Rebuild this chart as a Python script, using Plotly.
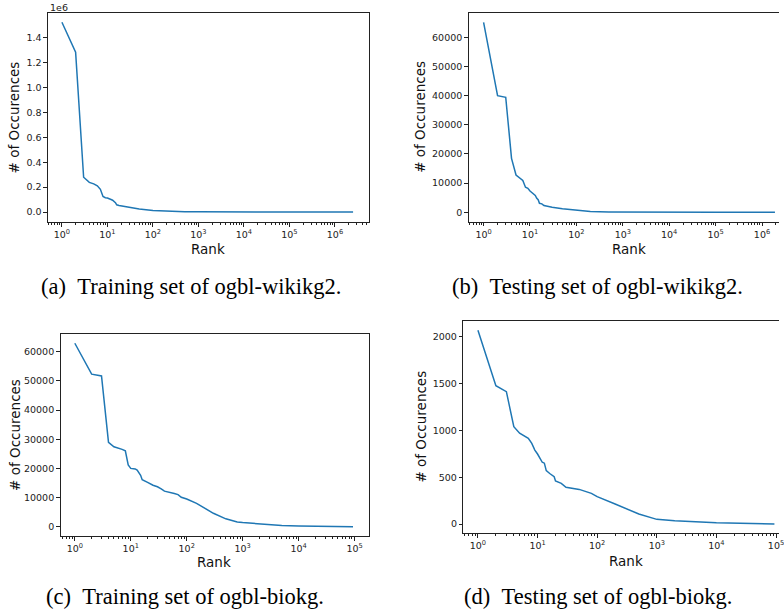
import plotly.graph_objects as go

W, H = 784, 613

# ---------------- data ----------------
a_rank = [1, 2, 3, 4, 5, 6, 7, 8, 9, 10, 12, 13, 15, 16, 18, 25, 50, 100, 200, 500, 1000, 1e4, 1e5, 1e6, 2.5e6]
a_count = [1524000, 1283000, 279000, 238000, 226000, 210000, 182000, 125000, 115000, 112000, 100000, 95000, 75000,
           58000, 52000, 42000, 25000, 13000, 6000, 2500, 1500, 300, 60, 10, 3]

b_rank = [1, 2, 3, 4, 5, 6, 7, 8, 9, 10, 11, 12, 13, 14, 15, 16, 18, 20, 25, 30, 50, 100, 200, 500, 1000, 1e4, 1e5, 1.9e6]
b_count = [65100, 40000, 39400, 18500, 12800, 11700, 10900, 8600, 8200, 7300, 6800, 6500, 5800, 4800, 4300, 3100,
           2900, 2300, 1900, 1700, 1200, 600, 250, 100, 60, 10, 2, 1]

c_rank = [1, 2, 3, 4, 5, 6, 7, 8, 9, 10, 12, 13, 14, 15, 16, 18, 20, 25, 30, 35, 40, 60, 70, 80, 100, 150, 200,
          300, 500, 800, 1000, 2000, 5000, 1e4, 3e4, 9.4e4]
c_count = [62900, 52300, 51700, 28900, 27400, 27000, 26500, 26000, 21200, 20000, 19800, 19400, 18500, 17600, 16100,
           15700, 15200, 14200, 13700, 13000, 12200, 11400, 11000, 10100, 9500, 8000, 6700, 4600, 2700, 1600, 1400,
           900, 400, 280, 100, 5]

d_rank = [1, 2, 3, 4, 5, 6, 7, 8, 9, 10, 12, 13, 14, 16, 19, 20, 25, 30, 50, 80, 100, 200, 300, 500, 1000, 2000,
          1e4, 9.4e4]
d_count = [2070, 1478, 1414, 1040, 970, 935, 915, 862, 790, 748, 660, 650, 570, 540, 505, 460, 435, 392, 370, 328,
           292, 214, 168, 107, 50, 35, 14, 1]

x_exponents_wiki = [0, 1, 2, 3, 4, 5, 6]
x_exponents_bio = [0, 1, 2, 3, 4, 5]
a_yticks = [0, 200000, 400000, 600000, 800000, 1000000, 1200000, 1400000]
a_yticktext = ["0.0", "0.2", "0.4", "0.6", "0.8", "1.0", "1.2", "1.4"]
b_yticks = [0, 10000, 20000, 30000, 40000, 50000, 60000]
c_yticks = [0, 10000, 20000, 30000, 40000, 50000, 60000]
d_yticks = [0, 500, 1000, 1500, 2000]

captions = ["(a)\u2002Training set of ogbl-wikikg2.",
            "(b)\u2002Testing set of ogbl-wikikg2.",
            "(c)\u2002Training set of ogbl-biokg.",
            "(d)\u2002Testing set of ogbl-biokg."]
ytitle = "# of Occurences"
xtitle = "Rank"

# ---------------- helpers ----------------
def px_x(p):
    return p / W

def px_y(p):
    return 1 - p / H

LINE = "#1f77b4"
TICKFONT = dict(family="DejaVu Sans", size=9.5, color="#222222")

minor_vals = [m * 10 ** d for d in range(-1, 7) for m in range(2, 10)]

def xaxis(dom, rng, exps, anchor):
    return dict(
        type="log", domain=dom, range=rng, anchor=anchor,
        tickmode="array", tickvals=[10 ** e for e in exps],
        ticktext=["10<sup>%d</sup>" % e for e in exps],
        ticks="outside", ticklen=3.5, tickwidth=1, tickcolor="#222",
        showline=True, linecolor="#222", linewidth=1, mirror=True,
        showgrid=False, zeroline=False, tickfont=TICKFONT,
        ticklabeloverflow="allow",
        minor=dict(tickmode="array", tickvals=minor_vals, ticks="outside",
                   ticklen=2, tickwidth=0.8, tickcolor="#222", showgrid=False),
    )

def yaxis(dom, rng, tv, tt, anchor, mirror):
    return dict(
        domain=dom, range=rng, anchor=anchor,
        tickmode="array", tickvals=tv, ticktext=tt,
        ticks="outside", ticklen=3.5, tickwidth=1, tickcolor="#222",
        showline=True, linecolor="#222", linewidth=1, mirror=mirror,
        showgrid=False, zeroline=False, tickfont=TICKFONT,
    )

fig = go.Figure()
series = [(a_rank, a_count, "x", "y"), (b_rank, b_count, "x2", "y2"),
          (c_rank, c_count, "x3", "y3"), (d_rank, d_count, "x4", "y4")]
for r, c, xa, ya in series:
    fig.add_trace(go.Scatter(x=r, y=c, mode="lines", xaxis=xa, yaxis=ya,
                             line=dict(color=LINE, width=1.5), showlegend=False))

fig.update_layout(
    width=W, height=H, margin=dict(l=0, r=0, t=0, b=0),
    paper_bgcolor="white", plot_bgcolor="white", showlegend=False,
    xaxis=xaxis([px_x(48.3), px_x(371)], [-0.306, 6.74], x_exponents_wiki, "y"),
    yaxis=yaxis([px_y(222), px_y(13.3)], [-80300, 1596000], a_yticks, a_yticktext, "x", True),
    xaxis2=xaxis([px_x(471.7), 1.0], [-0.321, 6.366], x_exponents_wiki, "y2"),
    yaxis2=yaxis([px_y(221.7), px_y(12.7)], [-3223, 68433], b_yticks, [str(v) for v in b_yticks], "x2", False),
    xaxis3=xaxis([px_x(61), px_x(371)], [-0.254, 5.252], x_exponents_bio, "y3"),
    yaxis3=yaxis([px_y(536), px_y(334)], [-3189, 66069], c_yticks, [str(v) for v in c_yticks], "x3", True),
    xaxis4=xaxis([px_x(466.3), 1.0], [-0.245, 5.05], x_exponents_bio, "y4"),
    yaxis4=yaxis([px_y(533.3), px_y(320.7)], [-99, 2172], d_yticks, [str(v) for v in d_yticks], "x4", False),
)

ann = []
# axis titles
for (xc, yc) in [(209.6, 249), (632.7, 249), (215.7, 561.5), (630, 560.7)]:
    ann.append(dict(text=xtitle, x=px_x(xc), y=px_y(yc), xref="paper", yref="paper",
                    showarrow=False, xanchor="center", yanchor="middle",
                    font=dict(family="DejaVu Sans", size=13.5, color="#111")))
for (xc, yc) in [(15, 117.5), (423.3, 117.2), (15, 435), (423.3, 427)]:
    ann.append(dict(text=ytitle, x=px_x(xc), y=px_y(yc), xref="paper", yref="paper",
                    showarrow=False, xanchor="center", yanchor="middle", textangle=-90,
                    font=dict(family="DejaVu Sans", size=13.5, color="#111")))
# offset text
ann.append(dict(text="1e6", x=px_x(48), y=px_y(7.5), xref="paper", yref="paper", showarrow=False,
                xanchor="left", yanchor="middle", font=dict(family="DejaVu Sans", size=9.5, color="#222")))
# captions
for text, (xc, yc) in zip(captions, [(192.5, 287), (601, 287), (186, 596), (602, 596)]):
    ann.append(dict(text=text, x=px_x(xc), y=px_y(yc), xref="paper", yref="paper",
                    showarrow=False, xanchor="center", yanchor="middle",
                    font=dict(family="Liberation Serif", size=22.5, color="#000")))
fig.update_layout(annotations=ann)

fig.write_html("out.html", config={"displayModeBar": False},
               post_script="document.body.style.margin='0';document.body.style.overflow='hidden';")
